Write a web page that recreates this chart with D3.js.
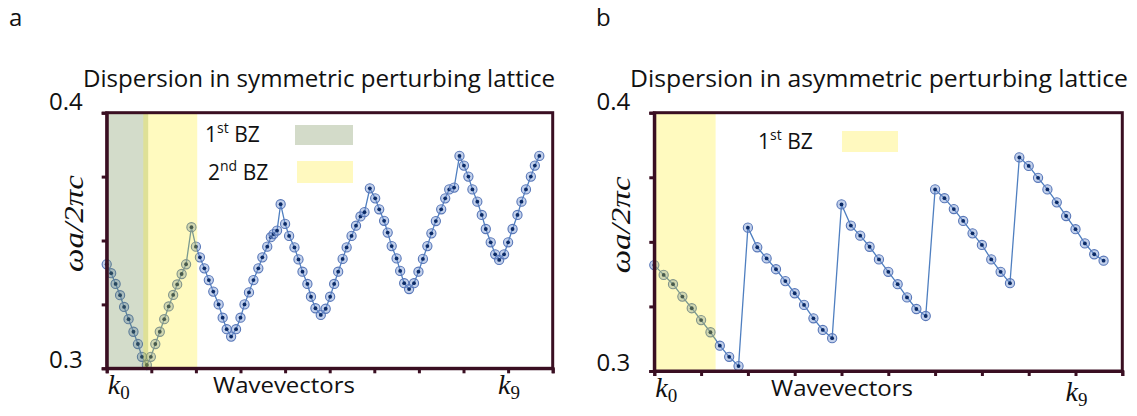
<!DOCTYPE html>
<html>
<head>
<meta charset="utf-8">
<script src="https://cdn.jsdelivr.net/npm/d3@7"></script>
<style>
  html, body { margin: 0; padding: 0; background: #ffffff; }
  svg { display: block; }
  .sans { font-family: "Open Sans", "Noto Sans", sans-serif; fill: #111; }
  .math { font-family: "Liberation Serif", "DejaVu Serif", serif; font-style: italic; fill: #111; }
</style>
</head>
<body>
<svg id="fig" width="1137" height="416"></svg>
<script>
// Wavevector positions (in units of k) and normalised frequencies, symmetric lattice
const kSym = [
  0.00, 0.10, 0.20, 0.30, 0.39, 0.49, 0.60, 0.70, 0.79, 0.90,
  0.99, 1.09, 1.19, 1.29, 1.39, 1.49, 1.58, 1.68, 1.78, 1.90,
  2.00, 2.09, 2.19, 2.29, 2.39, 2.51, 2.60, 2.69, 2.79, 2.90,
  3.00, 3.09, 3.19, 3.29, 3.40, 3.49, 3.60, 3.68, 3.74, 3.82,
  3.90, 4.00, 4.09, 4.21, 4.30, 4.39, 4.50, 4.58, 4.68, 4.80,
  4.91, 5.01, 5.10, 5.19, 5.29, 5.38, 5.49, 5.59, 5.69, 5.78,
  5.90, 6.02, 6.11, 6.22, 6.30, 6.39, 6.50, 6.58, 6.67, 6.78,
  6.89, 6.99, 7.09, 7.19, 7.28, 7.38, 7.50, 7.59, 7.68, 7.79,
  7.91, 8.01, 8.11, 8.20, 8.31, 8.41, 8.50, 8.61, 8.71, 8.80,
  8.91, 9.00, 9.10, 9.21, 9.30, 9.40, 9.51, 9.60, 9.70
];
const omegaSym = [
  0.3407, 0.3372, 0.3330, 0.3286, 0.3240, 0.3192, 0.3143, 0.3095, 0.3045, 0.3013,
  0.3045, 0.3095, 0.3143, 0.3192, 0.3242, 0.3287, 0.3328, 0.3369, 0.3407, 0.3552,
  0.3476, 0.3434, 0.3391, 0.3345, 0.3300, 0.3250, 0.3198, 0.3153, 0.3124, 0.3153,
  0.3198, 0.3250, 0.3297, 0.3345, 0.3391, 0.3434, 0.3476, 0.3513, 0.3525, 0.3539,
  0.3642, 0.3565, 0.3518, 0.3473, 0.3426, 0.3378, 0.3330, 0.3280, 0.3235, 0.3209,
  0.3233, 0.3280, 0.3330, 0.3378, 0.3428, 0.3473, 0.3518, 0.3558, 0.3594, 0.3611,
  0.3704, 0.3665, 0.3622, 0.3577, 0.3531, 0.3478, 0.3430, 0.3381, 0.3333, 0.3310,
  0.3333, 0.3378, 0.3428, 0.3478, 0.3528, 0.3576, 0.3622, 0.3665, 0.3700, 0.3707,
  0.3831, 0.3793, 0.3750, 0.3700, 0.3652, 0.3600, 0.3545, 0.3493, 0.3446, 0.3424,
  0.3446, 0.3493, 0.3545, 0.3600, 0.3652, 0.3700, 0.3750, 0.3793, 0.3831
];

// Asymmetric lattice
const kAsym = [
  0.0, 0.2, 0.4, 0.6, 0.8, 1.0, 1.2, 1.4, 1.6, 1.8,
  2.0, 2.2, 2.4, 2.6, 2.8, 3.0, 3.2, 3.4, 3.6, 3.8,
  4.0, 4.2, 4.4, 4.6, 4.8, 5.0, 5.2, 5.4, 5.6, 5.8,
  6.0, 6.2, 6.4, 6.6, 6.8, 7.0, 7.2, 7.4, 7.6,
  7.8, 8.0, 8.2, 8.4, 8.6, 8.8, 9.0, 9.2, 9.4, 9.6
];
const omegaAsym = [
  0.3410, 0.3372, 0.3336, 0.3288, 0.3243, 0.3197, 0.3150, 0.3098, 0.3055, 0.3019,
  0.3555, 0.3479, 0.3436, 0.3394, 0.3348, 0.3301, 0.3256, 0.3204, 0.3159, 0.3127,
  0.3645, 0.3563, 0.3524, 0.3481, 0.3432, 0.3384, 0.3336, 0.3285, 0.3240, 0.3213,
  0.3703, 0.3669, 0.3627, 0.3581, 0.3533, 0.3488, 0.3432, 0.3384, 0.3340,
  0.3827, 0.3794, 0.3748, 0.3703, 0.3653, 0.3600, 0.3549, 0.3494, 0.3452, 0.3427
];

// Axis ticks and labels
const kDomain = [0, 10];
const kTicks = d3.range(0, 11);
const omegaDomain = [0.3, 0.4];
const omegaTicks = [0.3, 0.325, 0.35, 0.375, 0.4];
const omegaTickLabels = ["0.3", "0.4"];

// Brillouin-zone shading (k ranges)
const zonesSym = [
  { name: "1st", k0: 0.0, k1: 0.93, fill: "rgba(110,140,80,0.30)", swatch: "#d3dbc9" },
  { name: "2nd", k0: 0.82, k1: 2.03, fill: "rgba(255,236,0,0.25)", swatch: "#fff9bf" }
];
const zonesAsym = [
  { name: "1st", k0: 0.0, k1: 1.31, fill: "rgba(255,236,0,0.25)", swatch: "#fff9bf" }
];

const svg = d3.select("#fig");
const frameColor = "#3a0f22";

function panel(opts) {
  const g = svg.append("g");
  const x = d3.scaleLinear().domain(kDomain).range([opts.left, opts.right]);
  const y = d3.scaleLinear().domain(omegaDomain).range([opts.bottom, opts.top]);

  // data line and markers
  const pts = opts.k.map((k, i) => [k, opts.omega[i]]);
  g.append("path")
    .datum(pts)
    .attr("fill", "none")
    .attr("stroke", "#4f7fc0")
    .attr("stroke-width", 1.3)
    .attr("d", d3.line().x(d => x(d[0])).y(d => y(d[1])));
  const mk = g.append("g").selectAll("g").data(pts).join("g")
    .attr("transform", d => `translate(${x(d[0])},${y(d[1])})`);
  mk.append("circle").attr("r", 4.6)
    .attr("fill", "rgba(120,150,210,0.45)")
    .attr("stroke", "#5877b8").attr("stroke-width", 1.1);
  mk.append("circle").attr("r", 1.9).attr("fill", "#0b2a66");

  // zone shading on top of the markers
  g.append("g").selectAll("rect").data(opts.zones).join("rect")
    .attr("x", d => x(d.k0))
    .attr("width", d => x(d.k1) - x(d.k0))
    .attr("y", opts.top)
    .attr("height", opts.bottom - opts.top)
    .attr("fill", d => d.fill);

  // frame
  g.append("rect")
    .attr("x", opts.left).attr("y", opts.top)
    .attr("width", opts.right - opts.left).attr("height", opts.bottom - opts.top)
    .attr("fill", "none").attr("stroke", frameColor).attr("stroke-width", 3);

  // axes
  const xAxis = g.append("g").attr("transform", `translate(0,${opts.bottom})`)
    .call(d3.axisBottom(x).tickValues(kTicks).tickSize(5).tickFormat(""));
  const yAxis = g.append("g").attr("transform", `translate(${opts.left},0)`)
    .call(d3.axisLeft(y).tickValues(omegaTicks).tickSize(5).tickFormat(""));
  [xAxis, yAxis].forEach(a => {
    a.select(".domain").attr("stroke", frameColor).attr("stroke-width", 3);
    a.selectAll(".tick line").attr("stroke", frameColor).attr("stroke-width", 3);
  });

  // y tick labels
  g.append("text").attr("class", "sans")
    .attr("x", opts.left - 24).attr("y", opts.top - 3)
    .attr("text-anchor", "end").attr("font-size", 24).text(omegaTickLabels[1]);
  g.append("text").attr("class", "sans")
    .attr("x", opts.left - 24).attr("y", opts.bottom)
    .attr("text-anchor", "end").attr("font-size", 24).text(omegaTickLabels[0]);

  // y axis title
  g.append("text").attr("class", "math")
    .attr("transform", `translate(${opts.left - 24},${(opts.top + opts.bottom) / 2 - 17}) rotate(-90)`)
    .attr("text-anchor", "middle")
    .attr("font-size", 28)
    .attr("textLength", 97).attr("lengthAdjust", "spacingAndGlyphs")
    .text("ωa/2πc");

  // x axis labels
  const k0 = g.append("text").attr("class", "math")
    .attr("x", x(0) + 1).attr("y", opts.bottom + 26).attr("font-size", 28);
  k0.append("tspan").text("k");
  k0.append("tspan").attr("font-style", "normal").attr("font-size", 19).attr("dy", 5).text("0");
  const k9 = g.append("text").attr("class", "math")
    .attr("x", x(9) - 10).attr("y", opts.bottom + opts.k9dy).attr("font-size", 28);
  k9.append("tspan").text("k");
  k9.append("tspan").attr("font-style", "normal").attr("font-size", 19).attr("dy", 5).text("9");

  g.append("text").attr("class", "sans")
    .attr("x", opts.wvX).attr("y", opts.bottom + 25)
    .attr("font-size", 22).attr("textLength", 142).attr("lengthAdjust", "spacingAndGlyphs")
    .text("Wavevectors");

  // title
  g.append("text").attr("class", "sans")
    .attr("x", opts.titleX).attr("y", 87)
    .attr("font-size", 23).attr("textLength", opts.titleW).attr("lengthAdjust", "spacingAndGlyphs")
    .text(opts.title);

  // panel letter
  g.append("text").attr("class", "sans")
    .attr("x", opts.letterX).attr("y", 26).attr("font-size", 24).text(opts.letter);

  // legend
  opts.legend.forEach((L, i) => {
    const zone = opts.zones[i];
    const t = g.append("text").attr("class", "sans")
      .attr("x", L.tx).attr("y", L.ty).attr("font-size", 21);
    t.append("tspan").text(zone.name[0]);
    t.append("tspan").attr("font-size", 14).attr("dy", -9).text(zone.name.slice(1));
    t.append("tspan").attr("dy", 9).text(" BZ");
    g.append("rect")
      .attr("x", L.sx).attr("y", L.sy).attr("width", L.sw).attr("height", L.sh)
      .attr("fill", zone.swatch);
  });
}

panel({
  left: 106.7, right: 552.7, top: 112.7, bottom: 368.3,
  k: kSym, omega: omegaSym, zones: zonesSym,
  title: "Dispersion in symmetric perturbing lattice", titleX: 83, titleW: 472,
  letter: "a", letterX: 9, wvX: 213, k9dy: 26,
  legend: [
    { tx: 205, ty: 142, sx: 295, sy: 125, sw: 58, sh: 20 },
    { tx: 208, ty: 180, sx: 297, sy: 161, sw: 56, sh: 22 }
  ]
});

panel({
  left: 654.3, right: 1122.3, top: 112.7, bottom: 371,
  k: kAsym, omega: omegaAsym, zones: zonesAsym,
  title: "Dispersion in asymmetric perturbing lattice", titleX: 630, titleW: 498,
  letter: "b", letterX: 596, wvX: 771, k9dy: 30,
  legend: [
    { tx: 758, ty: 149, sx: 842, sy: 131, sw: 56, sh: 21 }
  ]
});
</script>
</body>
</html>
